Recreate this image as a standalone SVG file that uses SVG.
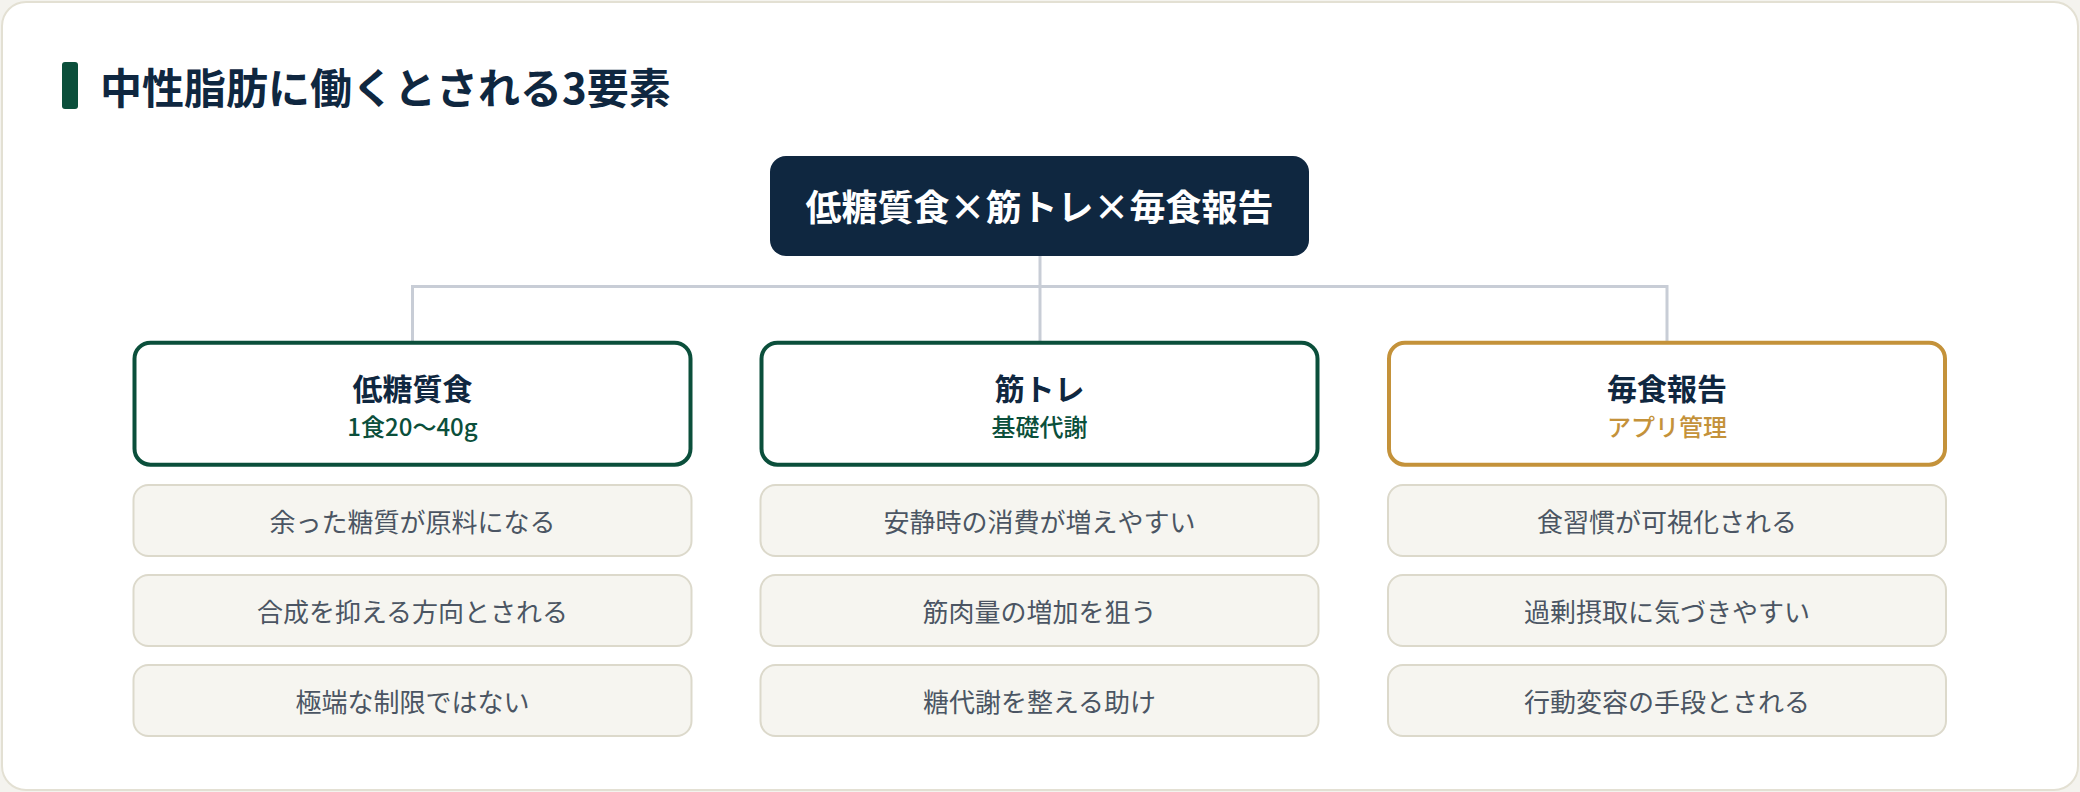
<svg xmlns="http://www.w3.org/2000/svg" width="2080" height="792" viewBox="0 0 2080 792">
  <style>
    text { font-family: "Noto Sans CJK JP", "Noto Sans", sans-serif; text-anchor: middle; }
    .title { font-size: 42px; font-weight: 700; fill: #0f2740; text-anchor: start; }
    .root-box { fill: #0f2740; }
    .root-text { font-size: 36px; font-weight: 700; fill: #ffffff; }
    .card { fill: #ffffff; stroke-width: 4; }
    .green { stroke: #0b4f3b; }
    .gold { stroke: #c4923a; }
    .card-title { font-size: 30px; font-weight: 700; fill: #0f2740; }
    .sub-green { font-size: 24px; font-weight: 500; fill: #0b4f3b; }
    .sub-gold { font-size: 24px; font-weight: 500; fill: #c4923a; }
    .item { fill: #f6f5f0; stroke: #dcd9cb; stroke-width: 2; }
    .item-text { font-size: 26px; font-weight: 400; fill: #4b5563; }
    .conn { fill: none; stroke: #c8cdd6; stroke-width: 3; }
  </style>
  <rect x="0" y="0" width="2080" height="792" fill="#f4f3ee"/>
  <rect x="2" y="2" width="2076" height="788" rx="24" fill="#ffffff" stroke="#e3e0d3" stroke-width="2"/>

  <g id="title">
    <rect x="62" y="62" width="16" height="47" rx="3" fill="#0b4f3b"/>
    <text class="title" x="100" y="104">中性脂肪に働くとされる3要素</text>
  </g>

  <g id="connectors">
    <path class="conn" d="M1040 256 V341"/>
    <path class="conn" d="M412.5 341 V286.5 H1667 V341"/>
  </g>

  <g id="root">
    <rect class="root-box" x="770" y="156" width="539" height="100" rx="16"/>
    <text class="root-text" x="1039.5" y="221">低糖質食×筋トレ×毎食報告</text>
  </g>

  <g id="card-lowcarb">
    <rect class="card green" x="134.5" y="342.7" width="556" height="122" rx="16"/>
    <text class="card-title" x="412.5" y="400">低糖質食</text>
    <text class="sub-green" x="412.5" y="436">1食20〜40g</text>
  </g>
  <g id="card-training">
    <rect class="card green" x="761.5" y="342.7" width="556" height="122" rx="16"/>
    <text class="card-title" x="1039.5" y="400">筋トレ</text>
    <text class="sub-green" x="1039.5" y="436">基礎代謝</text>
  </g>
  <g id="card-report">
    <rect class="card gold" x="1389" y="342.7" width="556" height="122" rx="16"/>
    <text class="card-title" x="1667" y="400">毎食報告</text>
    <text class="sub-gold" x="1667" y="436">アプリ管理</text>
  </g>

  <g id="item-1-1"><rect class="item" x="133.5" y="485" width="558" height="71" rx="15"/><text class="item-text" x="412.5" y="532">余った糖質が原料になる</text></g>
  <g id="item-1-2"><rect class="item" x="133.5" y="575" width="558" height="71" rx="15"/><text class="item-text" x="412.5" y="622">合成を抑える方向とされる</text></g>
  <g id="item-1-3"><rect class="item" x="133.5" y="665" width="558" height="71" rx="15"/><text class="item-text" x="412.5" y="712">極端な制限ではない</text></g>

  <g id="item-2-1"><rect class="item" x="760.5" y="485" width="558" height="71" rx="15"/><text class="item-text" x="1039.5" y="532">安静時の消費が増えやすい</text></g>
  <g id="item-2-2"><rect class="item" x="760.5" y="575" width="558" height="71" rx="15"/><text class="item-text" x="1039.5" y="622">筋肉量の増加を狙う</text></g>
  <g id="item-2-3"><rect class="item" x="760.5" y="665" width="558" height="71" rx="15"/><text class="item-text" x="1039.5" y="712">糖代謝を整える助け</text></g>

  <g id="item-3-1"><rect class="item" x="1388" y="485" width="558" height="71" rx="15"/><text class="item-text" x="1667" y="532">食習慣が可視化される</text></g>
  <g id="item-3-2"><rect class="item" x="1388" y="575" width="558" height="71" rx="15"/><text class="item-text" x="1667" y="622">過剰摂取に気づきやすい</text></g>
  <g id="item-3-3"><rect class="item" x="1388" y="665" width="558" height="71" rx="15"/><text class="item-text" x="1667" y="712">行動変容の手段とされる</text></g>
</svg>
